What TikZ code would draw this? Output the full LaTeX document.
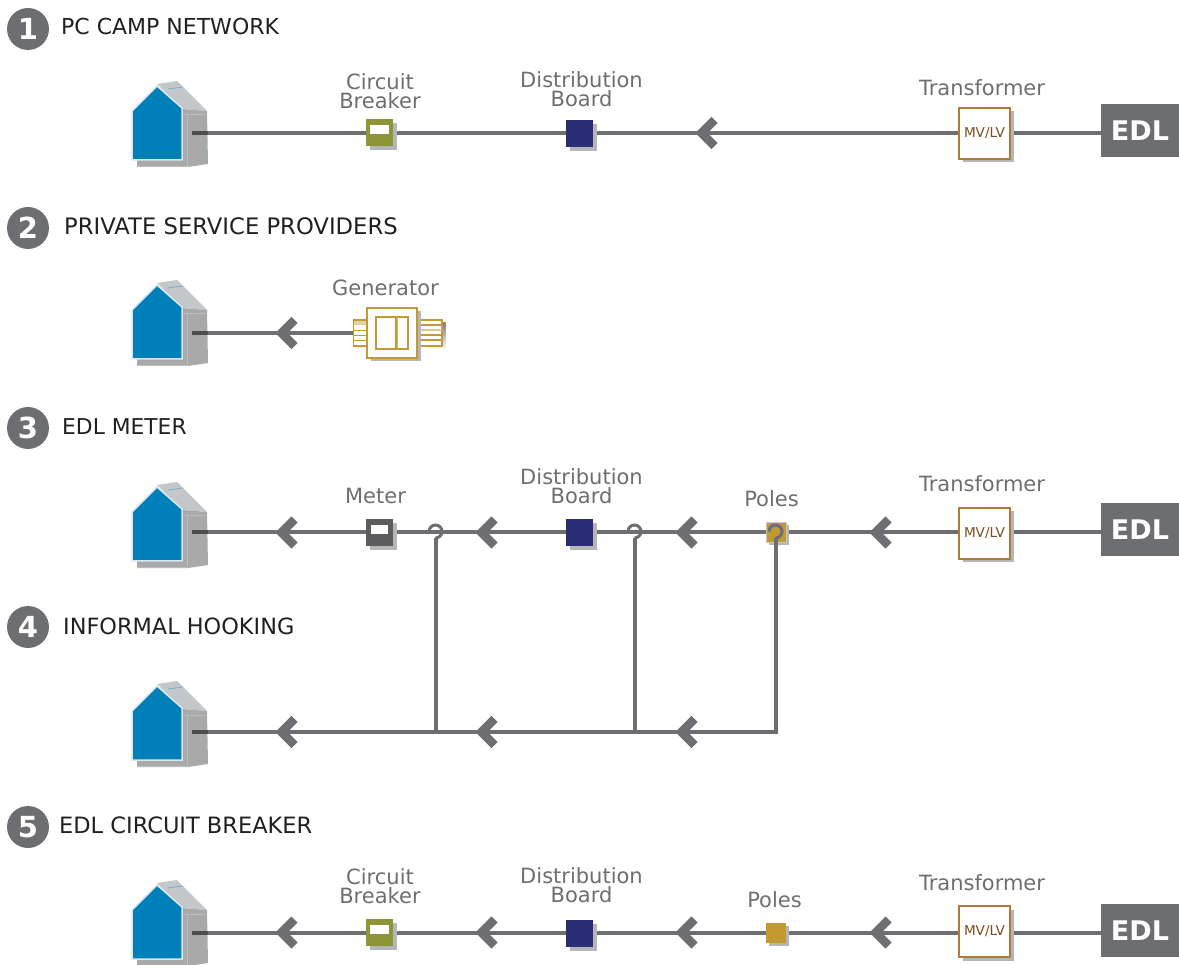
\documentclass[tikz,border=0pt]{standalone}
\usepackage{fontspec}
\setmainfont{DejaVu Sans}
\definecolor{wire}{HTML}{6D6E71}
\definecolor{shade}{HTML}{B5B6B8}
\definecolor{hblue}{HTML}{0080B8}
\definecolor{hedge}{HTML}{DCE6EC}
\definecolor{hroof}{HTML}{C3C7CA}
\definecolor{hwall}{HTML}{A9A9A9}
\definecolor{hwalllight}{HTML}{BDBDBD}
\definecolor{olive}{HTML}{8E9537}
\definecolor{navy}{HTML}{2B2D77}
\definecolor{gold}{HTML}{C29A31}
\definecolor{tedge}{HTML}{B07A3A}
\definecolor{ttext}{HTML}{7A4F1E}
\definecolor{ink}{HTML}{231F20}
\tikzset{
  wireline/.style={draw=wire,line width=4pt},
  titletext/.style={anchor=base west,inner sep=0pt,text=ink},
  lbl/.style={anchor=base,inner sep=0pt,text=wire,align=center,font=\fontsize{21}{19}\selectfont},
  numdisc/.style={circle,fill=wire,minimum size=42pt,inner sep=0pt,text=white,font=\fontsize{29}{29}\selectfont\bfseries},
  device/.style={rectangle,inner sep=0pt,minimum size=27pt},
  cbreaker/.style={device,fill=olive},
  dboard/.style={device,fill=navy},
  meter/.style={device,fill=wire!85!black},
  pole/.style={device,minimum size=20pt,fill=gold,draw=hroof,line width=.8pt},
  xformer/.style={rectangle,inner sep=0pt,minimum size=51pt,fill=white,draw=tedge,line width=1.2pt,text=ttext,font=\fontsize{13.6}{14}\selectfont},
  edlbox/.style={rectangle,inner sep=0pt,minimum width=78pt,minimum height=53pt,fill=wire,text=white,font=\fontsize{27}{27}\selectfont\bfseries},
  shadowed/.style={preaction={fill=shade,draw=none,transform canvas={shift={(#1pt,-#1pt)}}}},
  shadowed/.default=4,
  chev/.pic={\draw[wire,line width=8.5pt,miter limit=10] (18.5,-13) -- (5.5,0) -- (18.5,13);},
  window/.style={fill=white,draw=none},
  house/.pic={
    \fill[hroof] (-35,-49)--(-15,-52)--(15,-22)--(-10,-24)--cycle;
    \draw[hblue!40!hroof,line width=.7pt] (-24,-44)--(-9,-46);
    \fill[hwall] (-10,-24)--(15,-22)--(16,31)--(-4,34)--(-55,34)--(-55,27)--(-10,27)--cycle;
    \draw[hwalllight,line width=1pt] (-8,-18)--(14,-18) (-5,-18)--(-5,33) (-55,33.5)--(-4,33.5);
    \draw[hedge,fill=hblue,line width=1.5pt] (-35,-47)--(-60,-22)--(-60,27)--(-10,27)--(-10,-25)--cycle;
  }
}
\begin{document}
\begin{tikzpicture}[x=1pt,y=-1pt]
\useasboundingbox (0,0) rectangle (1179,965);
% number discs and titles
\foreach \n/\y/\tx/\by/\fs/\t in {1/29/61/35/22/PC CAMP NETWORK,2/228/64/235/22.7/PRIVATE SERVICE PROVIDERS,3/428/62/435/21.8/EDL METER,4/627/63/634/22.4/INFORMAL HOOKING,5/827/59/833/22.5/EDL CIRCUIT BREAKER}{
  \node[numdisc] (disc\n) at (28,\y) {\n};
  \node[titletext,font=\fontsize{\fs}{24}\selectfont] (title\n) at (\tx,\by) {\t};
}
% houses
\foreach \y in {133,332,534,733,932}{
  \pic at (192,\y) {house};
}
\coordinate (h1) at (192,133);
\coordinate (h2) at (192,333);
\coordinate (h3) at (192,532.5);
\coordinate (h4) at (192,732);
\coordinate (h5) at (192,932.5);
\coordinate (ed1) at (1140,133);
\coordinate (ge2) at (392,333);
\coordinate (ed3) at (1140,532.5);
\coordinate (ed5) at (1140,932.5);
\coordinate (j1) at (435.5,732);
\coordinate (j2) at (634.5,732);
\coordinate (j3) at (775.5,732);
\coordinate (k1) at (435.5,538);
\coordinate (k2) at (634.5,538);
\coordinate (k3) at (775.5,538);
% wires
\draw[wireline] (h1) -- (ed1);
\draw[wireline] (h2) -- (ge2);
\draw[wireline] (h3) -- (ed3);
\draw[wireline,line join=miter] (h4) -- (j3) -- (k3);
\draw[wireline] (j1) -- (k1);
\draw[wireline] (j2) -- (k2);
\draw[wireline] (h5) -- (ed5);
% darker wire stubs in the houses
\foreach \y in {133,333,532.5,732,932.5}{\draw[wire!70!black,line width=4pt] (192,\y) -- +(16,0);}
% chevrons
\foreach \x/\y in {696/133,276/333,276/532.5,476/532.5,676/532.5,870/532.5,276/732,476/732,676/732,276/932.5,476/932.5,676/932.5,870/932.5}{
  \pic at (\x,\y) {chev};
}
% devices
\node[cbreaker,shadowed=4] (cbA) at (379.5,133) {};
\fill[window] (370,125) rectangle (389,134);
\node[dboard,shadowed=4] (dbA) at (579.5,133.5) {};
\node[xformer,shadowed=3.5] (trA) at (984.5,133.5) {MV/LV};
\node[edlbox] (edA) at (1140,130.5) {EDL};
\node[meter,shadowed=4] (meC) at (379.5,532.5) {};
\fill[window] (370.5,525) rectangle (387.5,534);
\node[dboard,shadowed=4] (dbC) at (579.5,532.5) {};
\node[pole,shadowed=3] (poC) at (776,532.5) {};
\node[xformer,shadowed=3.5] (trC) at (984.5,533.5) {MV/LV};
\node[edlbox] (edC) at (1140,529.5) {EDL};
\node[cbreaker,shadowed=4] (cbE) at (379.5,932.5) {};
\fill[window] (370,925) rectangle (389,934);
\node[dboard,shadowed=4] (dbE) at (579.5,933) {};
\node[pole,draw=none,shadowed=3] (poE) at (776,933) {};
\node[xformer,shadowed=3.5] (trE) at (984.5,931.5) {MV/LV};
\node[edlbox] (edE) at (1140,930.5) {EDL};
% stem over the pole box and hooks
\draw[wireline] (j3 |- 0,545) -- (k3);
\foreach \k in {k1,k2,k3}{
  \draw[wire,line width=3pt] (\k) arc[start angle=90,end angle=-180,radius=6.5];
}
% generator
\fill[shade] (357,323) rectangle (370,349.5);
\fill[shade] (430,323) rectangle (445.5,349.5);
\begin{scope}[draw=gold,line width=1.4pt]
  \fill[white] (353.5,320) rectangle (367,346);
  \fill[gold!45!white] (353.5,320) rectangle (367,325.5);
  \draw (353.5,320) rectangle (367,346);
  \draw (353.5,330.5) -- (367,330.5) (353.5,335.5) -- (367,335.5) (353.5,340.5) -- (367,340.5);
  \fill[white] (417,320) rectangle (442,346);
  \draw[line width=1.8pt] (417,320) rectangle (442,346);
  \draw[line width=2pt] (417,325.5) -- (442,325.5) (417,335.5) -- (442,335.5) (417,340.5) -- (442,340.5);
  \draw[line width=2pt,gold!55!white] (417,330.5) -- (442,330.5);
\end{scope}
\node[rectangle,minimum size=50pt,inner sep=0pt,fill=white,draw=gold,line width=1.3pt,shadowed=3.5] (genA) at (392,333) {};
\draw[gold,line width=1.3pt] (376,317) rectangle (408,349) (396,317) -- (396,349);
\draw[gold!70!white,line width=1.3pt] (397.5,317) -- (397.5,349);
% labels
\node[lbl] (l1) at (380,90) {Circuit};
\node[lbl] (l2) at (380,109) {Breaker};
\node[lbl] (l3) at (581.5,88) {Distribution};
\node[lbl] (l4) at (581.5,107) {Board};
\node[lbl] (l5) at (982,96) {Transformer};
\node[lbl] (l6) at (385.5,296) {Generator};
\node[lbl] (l7) at (375.5,504) {Meter};
\node[lbl] (l8) at (581.5,485) {Distribution};
\node[lbl] (l9) at (581.5,504) {Board};
\node[lbl] (l10) at (771.5,507) {Poles};
\node[lbl] (l11) at (982,492) {Transformer};
\node[lbl] (l12) at (380,884) {Circuit};
\node[lbl] (l13) at (380,903) {Breaker};
\node[lbl] (l14) at (581.5,883) {Distribution};
\node[lbl] (l15) at (581.5,902) {Board};
\node[lbl] (l16) at (774.5,907) {Poles};
\node[lbl] (l17) at (982,890) {Transformer};
\end{tikzpicture}
\end{document}
